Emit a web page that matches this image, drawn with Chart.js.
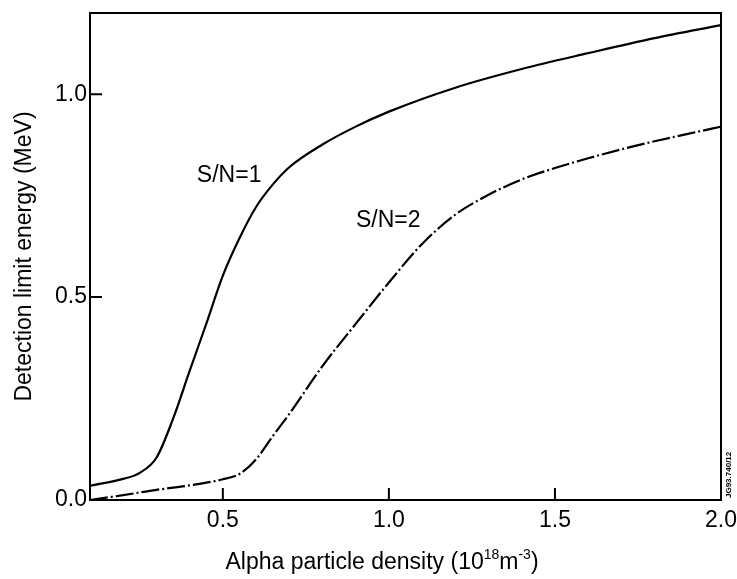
<!DOCTYPE html>
<html>
<head>
<meta charset="utf-8">
<script src="https://cdn.jsdelivr.net/npm/chart.js@4.4.1/dist/chart.umd.min.js"></script>
<style>
    html, body { margin: 0; padding: 0; background: #fff; }
    #wrap { width: 737px; height: 579px; }
</style>
</head>
<body>
<div id="wrap"><canvas id="chart"></canvas></div>
<script>
// S/N=1 curve (solid)
const sn1X = [0.1, 0.2, 0.25, 0.3, 0.35, 0.4, 0.45, 0.5, 0.55, 0.6, 0.65, 0.7, 0.8, 0.9, 1.0, 1.2, 1.4, 1.6, 1.8, 2.0];
const sn1Y = [0.035, 0.052, 0.067, 0.104, 0.2, 0.318, 0.434, 0.553, 0.645, 0.722, 0.777, 0.82, 0.876, 0.92, 0.957, 1.016, 1.062, 1.101, 1.138, 1.17];

// S/N=2 curve (dash-dot)
const sn2X = [0.1, 0.2, 0.3, 0.4, 0.5, 0.55, 0.6, 0.65, 0.7, 0.8, 0.9, 1.0, 1.1, 1.2, 1.3, 1.4, 1.5, 1.6, 1.7, 1.8, 1.9, 2.0];
const sn2Y = [0.0, 0.012, 0.025, 0.036, 0.051, 0.064, 0.1, 0.157, 0.212, 0.33, 0.434, 0.536, 0.631, 0.703, 0.752, 0.79, 0.818, 0.842, 0.864, 0.884, 0.902, 0.92];

const xTicks = [0.5, 1.0, 1.5, 2.0];
const yTicks = [0.0, 0.5, 1.0];

const FONT = 'Liberation Sans, Arial, Helvetica, sans-serif';

const toPoints = (xs, ys) => xs.map((x, i) => ({ x: x, y: ys[i] }));

// frame, inward tick marks, curve labels, x title
const decor = {
    id: 'decor',
    beforeDraw(chart) {
        const c = chart.ctx;
        c.save();
        c.fillStyle = '#fff';
        c.fillRect(0, 0, chart.width, chart.height);
        c.restore();
    },
    afterDraw(chart) {
        const c = chart.ctx;
        const a = chart.chartArea;
        const xs = chart.scales.x, ys = chart.scales.y;
        c.save();
        c.strokeStyle = '#000';
        c.lineWidth = 2;
        c.strokeRect(a.left, a.top, a.right - a.left, a.bottom - a.top);

        const tl = 12;
        c.beginPath();
        xTicks.forEach(v => {
            const px = xs.getPixelForValue(v);
            c.moveTo(px, a.bottom);
            c.lineTo(px, a.bottom - tl);
        });
        yTicks.forEach(v => {
            const py = ys.getPixelForValue(v);
            c.moveTo(a.left, py);
            c.lineTo(a.left + tl, py);
        });
        c.stroke();

        // curve labels
        c.fillStyle = '#000';
        c.font = '23px ' + FONT;
        c.textAlign = 'center';
        c.textBaseline = 'middle';
        c.fillText('S/N=1', xs.getPixelForValue(0.519), ys.getPixelForValue(0.80));
        c.fillText('S/N=2', xs.getPixelForValue(0.998), ys.getPixelForValue(0.688));

        // x axis title with superscripts
        const parts = [
            ['Alpha particle density (10', 23, 0],
            ['18', 14, -8],
            ['m', 23, 0],
            ['-3', 14, -8],
            [')', 23, 0]
        ];
        let total = 0;
        parts.forEach(p => { c.font = p[1] + 'px ' + FONT; total += c.measureText(p[0]).width; });
        let x = 382 - total / 2;
        const y = 563;
        c.textAlign = 'left';
        c.textBaseline = 'middle';
        parts.forEach(p => {
            c.font = p[1] + 'px ' + FONT;
            c.fillText(p[0], x, y + p[2]);
            x += c.measureText(p[0]).width;
        });

        // small figure id at right edge
        c.font = 'bold 8px ' + FONT;
        c.translate(729, 498);
        c.rotate(-Math.PI / 2);
        c.textAlign = 'left';
        c.fillText('JG93.740/12', 0, 0);
        c.restore();
    }
};

new Chart(document.getElementById('chart'), {
    type: 'line',
    data: {
        datasets: [
            {
                label: 'S/N=1',
                data: toPoints(sn1X, sn1Y),
                borderColor: '#000',
                borderWidth: 2.2,
                pointRadius: 0,
                cubicInterpolationMode: 'monotone'
            },
            {
                label: 'S/N=2',
                data: toPoints(sn2X, sn2Y),
                borderColor: '#000',
                borderWidth: 2.2,
                borderDash: [18, 3, 2, 3],
                pointRadius: 0,
                cubicInterpolationMode: 'monotone'
            }
        ]
    },
    options: {
        responsive: true,
        maintainAspectRatio: false,
        animation: false,
        layout: { padding: { top: 13, right: 16, left: 0, bottom: 0 } },
        plugins: {
            legend: { display: false },
            tooltip: { enabled: false }
        },
        scales: {
            x: {
                type: 'linear',
                min: 0.1,
                max: 2.0,
                afterBuildTicks: s => { s.ticks = xTicks.map(v => ({ value: v })); },
                afterFit: s => { s.height = 79; s.paddingLeft = 0; s.paddingRight = 0; },
                grid: { display: false, drawTicks: false },
                border: { display: false },
                ticks: {
                    color: '#000',
                    padding: 7,
                    maxRotation: 0,
                    autoSkip: false,
                    font: { family: FONT, size: 23 },
                    callback: v => v.toFixed(1)
                }
            },
            y: {
                type: 'linear',
                min: 0,
                max: 1.2,
                afterBuildTicks: s => { s.ticks = yTicks.map(v => ({ value: v })); },
                afterFit: s => { s.width = 90; s.paddingTop = 0; s.paddingBottom = 0; },
                grid: { display: false, drawTicks: false },
                border: { display: false },
                ticks: {
                    color: '#000',
                    padding: 3,
                    autoSkip: false,
                    font: { family: FONT, size: 23 },
                    callback: v => v.toFixed(1)
                },
                title: {
                    display: true,
                    text: 'Detection limit energy (MeV)',
                    color: '#000',
                    padding: { top: 11, bottom: 0 },
                    font: { family: FONT, size: 23 }
                }
            }
        }
    },
    plugins: [decor]
});
</script>
</body>
</html>
